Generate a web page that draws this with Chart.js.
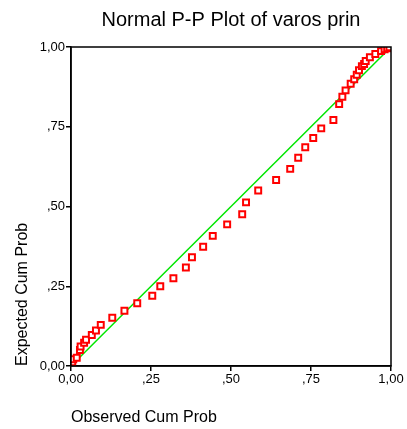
<!DOCTYPE html>
<html>
<head>
<meta charset="utf-8">
<script src="https://cdn.jsdelivr.net/npm/chart.js@4"></script>
<style>
  html, body { margin: 0; padding: 0; background: #fff; }
  #wrap { width: 407px; height: 429px; }
</style>
</head>
<body>
<div id="wrap"><canvas id="ppChart" width="407" height="429"></canvas></div>
<script>
// observed vs expected cumulative probabilities
const observedCum = [0.004, 0.007, 0.018, 0.028, 0.030, 0.041, 0.047, 0.065, 0.078, 0.093,
  0.129, 0.167, 0.207, 0.254, 0.279, 0.320, 0.359, 0.378, 0.413, 0.443,
  0.488, 0.535, 0.547, 0.585, 0.641, 0.685, 0.710, 0.732, 0.757, 0.782,
  0.820, 0.838, 0.848, 0.858, 0.874, 0.885, 0.893, 0.900, 0.909, 0.916,
  0.921, 0.934, 0.951, 0.969, 0.980, 0.988, 0.995];
const expectedCum = [0.012, 0.021, 0.026, 0.050, 0.061, 0.073, 0.082, 0.097, 0.111, 0.129,
  0.151, 0.173, 0.197, 0.220, 0.250, 0.275, 0.309, 0.341, 0.374, 0.408,
  0.444, 0.476, 0.513, 0.550, 0.583, 0.618, 0.653, 0.686, 0.715, 0.745,
  0.771, 0.821, 0.844, 0.864, 0.885, 0.899, 0.913, 0.927, 0.940, 0.947,
  0.956, 0.968, 0.978, 0.987, 0.993, 0.996, 0.999];
const refLineX = [0, 1];
const refLineY = [0, 1];
const tickValues = [0, 0.25, 0.5, 0.75, 1];
const tickLabels = ["0,00", ",25", ",50", ",75", "1,00"];

const FONT = "'Liberation Sans', Arial, sans-serif";

function labelFor(v) {
  const i = tickValues.findIndex(t => Math.abs(t - v) < 1e-9);
  return i >= 0 ? tickLabels[i] : "";
}

// box around the plot area (top and right sides too)
const frame = {
  id: "frame",
  afterDraw(chart) {
    const a = chart.chartArea;
    const ctx = chart.ctx;
    ctx.save();
    ctx.strokeStyle = "#000";
    ctx.lineWidth = 1.5;
    ctx.strokeRect(a.left, a.top, a.right - a.left, a.bottom - a.top);
    ctx.restore();
  }
};

const ctx = document.getElementById("ppChart").getContext("2d");
new Chart(ctx, {
  type: "scatter",
  data: {
    datasets: [
      {
        type: "line",
        data: refLineX.map((x, i) => ({ x: x, y: refLineY[i] })),
        borderColor: "#00e600",
        borderWidth: 1.5,
        pointRadius: 0,
        fill: false,
        order: 2
      },
      {
        data: observedCum.map((x, i) => ({ x: x, y: expectedCum[i] })),
        pointStyle: "rect",
        pointRadius: 4.2,
        borderWidth: 2,
        borderColor: "#ff0000",
        backgroundColor: "#ffffff",
        order: 1
      }
    ]
  },
  options: {
    responsive: false,
    animation: false,
    layout: { padding: { left: 0, right: 16, top: 0, bottom: 0 } },
    plugins: {
      legend: { display: false },
      tooltip: { enabled: false },
      title: {
        display: true,
        text: "Normal P-P Plot of varos prin",
        fullSize: false,
        color: "#000",
        font: { family: FONT, size: 20, weight: "normal" },
        padding: { top: 8, bottom: 15 }
      }
    },
    scales: {
      x: {
        type: "linear",
        min: 0,
        max: 1,
        afterBuildTicks(scale) { scale.ticks = tickValues.map(v => ({ value: v })); },
        afterFit(scale) { scale.height = 63; },
        ticks: {
          color: "#000",
          padding: 1,
          maxRotation: 0,
          font: { family: FONT, size: 13 },
          callback: v => labelFor(v)
        },
        grid: { drawOnChartArea: false, drawTicks: true, tickLength: 5, color: "#000", lineWidth: 1.5 },
        border: { display: true, color: "#000", width: 1.5 },
        title: {
          display: true,
          text: "Observed Cum Prob",
          align: "start",
          color: "#000",
          font: { family: FONT, size: 16 },
          padding: { top: 2, bottom: 2 }
        }
      },
      y: {
        type: "linear",
        min: 0,
        max: 1,
        afterBuildTicks(scale) { scale.ticks = tickValues.map(v => ({ value: v })); },
        afterFit(scale) { scale.width = 71; },
        ticks: {
          color: "#000",
          padding: 1,
          font: { family: FONT, size: 13 },
          callback: v => labelFor(v)
        },
        grid: { drawOnChartArea: false, drawTicks: true, tickLength: 5, color: "#000", lineWidth: 1.5 },
        border: { display: true, color: "#000", width: 1.5 },
        title: {
          display: true,
          text: "Expected Cum Prob",
          align: "start",
          color: "#000",
          font: { family: FONT, size: 16 },
          padding: { top: 13, bottom: 2 }
        }
      }
    }
  },
  plugins: [frame]
});
</script>
</body>
</html>
